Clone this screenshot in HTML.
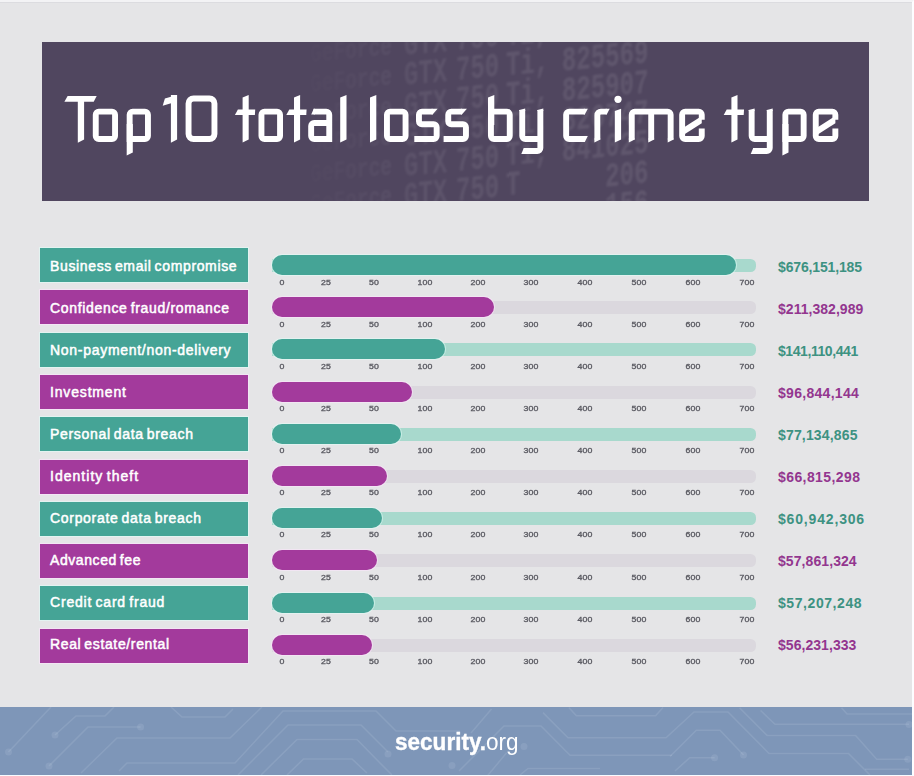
<!DOCTYPE html>
<html><head><meta charset="utf-8">
<style>
*{margin:0;padding:0;box-sizing:border-box}
html,body{width:914px;height:776px;overflow:hidden}
body{background:#e5e5e7;position:relative;font-family:"Liberation Sans",sans-serif}
#title{position:absolute;left:42px;top:42px;width:827px;height:159px;background:#50465f;overflow:hidden}
#title h1{position:absolute;left:22px;top:40px;font-size:62px;font-weight:normal;color:#fff;white-space:nowrap;letter-spacing:0px}
.row{position:absolute;left:0;width:914px;height:0}
.lab{position:absolute;left:40px;top:0;width:208px;height:34px;color:#fff;font-weight:normal;-webkit-text-stroke:0.5px #fff;font-size:14px;word-spacing:-1.5px;line-height:36px;padding-left:10px;white-space:nowrap}
.t .lab{background:#45a496;box-shadow:0 0 0 1px rgba(225,255,250,0.55)}
.p .lab{background:#a33a9c;box-shadow:0 0 0 1px rgba(255,230,255,0.55)}
.track{position:absolute;left:272px;top:11px;width:484px;height:13px;border-radius:0 5.5px 5.5px 0}
.t .track{background:#a8d9cd}
.p .track{background:#dbd8de}
.bar{position:absolute;left:272px;top:7px;height:20px;border-radius:10px}
.t .bar{background:#45a496;box-shadow:0 0 0 1px rgba(225,255,250,0.5)}
.p .bar{background:#a33a9c;box-shadow:0 0 0 1px rgba(255,230,255,0.5)}
.ticks{position:absolute;left:0;top:30px;height:9px;width:914px}
.tk{position:absolute;width:120px;text-align:center;font-size:7px;line-height:9px;color:#5a5a62;font-weight:normal;-webkit-text-stroke:0.3px #5a5a62;letter-spacing:0.15px;transform:scaleX(1.25)}
.val{position:absolute;left:778px;font-size:14px;font-weight:bold;line-height:36px;white-space:nowrap}
.t .val{color:#3d9282}
.p .val{color:#93368f}
#foot{position:absolute;left:0;top:707px;width:912px;height:68px;background:#7e96b8;overflow:hidden}
#edge{position:absolute;left:0;top:0;width:914px;height:776px;border-top:2px solid #f3f3f5;box-shadow:inset 0 1px 0 #dcdce0;border-right:2px solid #fdfdff;border-bottom:1px solid #f8fbff;pointer-events:none}
#logo b{-webkit-text-stroke:0.35px #fff}
#logo{position:absolute;left:395px;top:728px;color:#fff;font-size:24.5px;line-height:28px;white-space:nowrap;transform-origin:0 0;transform:scaleX(0.92)}
#logo b{font-weight:bold}

</style></head><body>
<div id="title"></div>
<svg width="914" height="776" viewBox="0 0 914 776" style="position:absolute;left:0;top:0">
<defs>
<clipPath id="tclip"><rect x="42" y="42" width="827" height="159"/></clipPath>
<linearGradient id="tfade" x1="0" y1="0" x2="914" y2="0" gradientUnits="userSpaceOnUse">
<stop offset="0.3173" stop-color="#fff" stop-opacity="0"/>
<stop offset="0.4048" stop-color="#fff" stop-opacity="0.45"/>
<stop offset="0.4595" stop-color="#fff" stop-opacity="0.8"/>
<stop offset="0.5908" stop-color="#fff" stop-opacity="1"/>
<stop offset="0.7112" stop-color="#fff" stop-opacity="1"/>
<stop offset="0.7495" stop-color="#fff" stop-opacity="0"/>
</linearGradient>
<mask id="tmask" maskUnits="userSpaceOnUse" x="0" y="0" width="914" height="776"><rect x="0" y="0" width="914" height="776" fill="url(#tfade)"/></mask>
<filter id="tblur" x="-10%" y="-10%" width="120%" height="120%"><feGaussianBlur stdDeviation="0.8"/></filter>
</defs>
<g clip-path="url(#tclip)"><g mask="url(#tmask)"><g transform="translate(562,0) skewY(-5.5) translate(-562,0)" filter="url(#tblur)" fill="rgba(255,255,255,0.095)" font-weight="bold" font-family="Liberation Mono" font-size="24">
<text font-size="19.5" transform="translate(310,38.5) scale(1,1.45)">GeForce</text><text transform="translate(404,40.5) scale(1,1.45)">GTX</text><text transform="translate(456,40.5) scale(1,1.45)">750</text><text transform="translate(506,40.5) scale(1,1.45)">Ti,</text><text transform="translate(562,40.5) scale(1,1.45)">825245</text><text font-size="19.5" transform="translate(310,68.5) scale(1,1.45)">GeForce</text><text transform="translate(404,70.5) scale(1,1.45)">GTX</text><text transform="translate(456,70.5) scale(1,1.45)">750</text><text transform="translate(506,70.5) scale(1,1.45)">Ti,</text><text transform="translate(562,70.5) scale(1,1.45)">825569</text><text font-size="19.5" transform="translate(310,98.5) scale(1,1.45)">GeForce</text><text transform="translate(404,100.5) scale(1,1.45)">GTX</text><text transform="translate(456,100.5) scale(1,1.45)">750</text><text transform="translate(506,100.5) scale(1,1.45)">Ti,</text><text transform="translate(562,100.5) scale(1,1.45)">825907</text><text font-size="19.5" transform="translate(310,128.5) scale(1,1.45)">GeForce</text><text transform="translate(404,130.5) scale(1,1.45)">GTX</text><text transform="translate(456,130.5) scale(1,1.45)">750</text><text transform="translate(506,130.5) scale(1,1.45)">Ti,</text><text transform="translate(562,130.5) scale(1,1.45)">826747</text><text font-size="19.5" transform="translate(310,158.5) scale(1,1.45)">GeForce</text><text transform="translate(404,160.5) scale(1,1.45)">GTX</text><text transform="translate(456,160.5) scale(1,1.45)">750</text><text transform="translate(506,160.5) scale(1,1.45)">Ti,</text><text transform="translate(562,160.5) scale(1,1.45)">841025</text><text font-size="19.5" transform="translate(310,188.5) scale(1,1.45)">GeForce</text><text transform="translate(404,190.5) scale(1,1.45)">GTX</text><text transform="translate(456,190.5) scale(1,1.45)">750</text><text transform="translate(506,190.5) scale(1,1.45)">T</text><text transform="translate(562,190.5) scale(1,1.45)">&#160;&#160;&#160;206</text><text font-size="19.5" transform="translate(310,218.5) scale(1,1.45)">GeForce</text><text transform="translate(404,220.5) scale(1,1.45)">GTX</text><text transform="translate(456,220.5) scale(1,1.45)">750</text><text transform="translate(562,220.5) scale(1,1.45)">&#160;&#160;&#160;156</text>
</g></g></g></svg>
<svg id="tsvg" width="914" height="776" viewBox="0 0 914 776" style="position:absolute;left:0;top:0"><path fill="none" stroke="#fff" stroke-width="5.90" stroke-linejoin="miter" d="M98.75,111.65 L112.05,111.65 A3,3 0 0 1 115.05,114.65 L115.05,136.05 A3,3 0 0 1 112.05,139.05 L98.75,139.05 A3,3 0 0 1 95.75,136.05 L95.75,114.65 A3,3 0 0 1 98.75,111.65 Z M132.65,111.65 L144.95,111.65 A3,3 0 0 1 147.95,114.65 L147.95,136.05 A3,3 0 0 1 144.95,139.05 L129.65,139.05 L129.65,114.65 A3,3 0 0 1 132.65,111.65 Z M193.55,98.45 L209.45,98.45 A5,5 0 0 1 214.45,103.45 L214.45,134.05 A5,5 0 0 1 209.45,139.05 L193.55,139.05 A5,5 0 0 1 188.55,134.05 L188.55,103.45 A5,5 0 0 1 193.55,98.45 Z M264.45,111.65 L277.05,111.65 A3,3 0 0 1 280.05,114.65 L280.05,136.05 A3,3 0 0 1 277.05,139.05 L264.45,139.05 A3,3 0 0 1 261.45,136.05 L261.45,114.65 A3,3 0 0 1 264.45,111.65 Z M313.70,111.65 L326.25,111.65 A3,3 0 0 1 329.25,114.65 L329.25,142.00 M329.25,122.95 L314.15,122.95 A3,3 0 0 0 311.15,125.95 L311.15,136.05 A3,3 0 0 0 314.15,139.05 L329.25,139.05 M389.95,111.65 L402.55,111.65 A3,3 0 0 1 405.55,114.65 L405.55,136.05 A3,3 0 0 1 402.55,139.05 L389.95,139.05 A3,3 0 0 1 386.95,136.05 L386.95,114.65 A3,3 0 0 1 389.95,111.65 Z M432.60,111.65 L421.95,111.65 A3,3 0 0 0 418.95,114.65 L418.95,121.30 A3,3 0 0 0 421.95,124.30 L433.65,124.30 A3,3 0 0 1 436.65,127.30 L436.65,136.05 A3,3 0 0 1 433.65,139.05 L414.30,139.05 M461.90,111.65 L451.25,111.65 A3,3 0 0 0 448.25,114.65 L448.25,121.30 A3,3 0 0 0 451.25,124.30 L462.95,124.30 A3,3 0 0 1 465.95,127.30 L465.95,136.05 A3,3 0 0 1 462.95,139.05 L443.60,139.05 M490.95,111.65 L506.75,111.65 A3,3 0 0 1 509.75,114.65 L509.75,136.05 A3,3 0 0 1 506.75,139.05 L493.95,139.05 A3,3 0 0 1 490.95,136.05 L490.95,111.65 Z M522.25,109.90 L522.25,136.05 A3,3 0 0 0 525.25,139.05 L540.35,139.05 M540.35,109.90 L540.35,148.05 A3,3 0 0 1 537.35,151.05 L523.80,151.05 M584.80,111.65 L569.15,111.65 A3,3 0 0 0 566.15,114.65 L566.15,136.05 A3,3 0 0 0 569.15,139.05 L584.80,139.05 M597.35,139.40 L597.35,115.15 A3.5,3.5 0 0 1 600.85,111.65 L606.70,111.65 M631.75,139.40 L631.75,114.65 A3,3 0 0 1 634.75,111.65 L667.65,111.65 A3,3 0 0 1 670.65,114.65 L670.65,139.40 M651.20,109.70 L651.20,139.40 M701.75,128.50 L701.75,136.05 A3,3 0 0 1 698.75,139.05 L685.15,139.05 A3,3 0 0 1 682.15,136.05 L682.15,114.65 A3,3 0 0 1 685.15,111.65 L698.75,111.65 A3,3 0 0 1 701.75,114.65 L701.75,119.70 M751.65,109.90 L751.65,136.05 A3,3 0 0 0 754.65,139.05 L769.75,139.05 M769.75,109.90 L769.75,148.05 A3,3 0 0 1 766.75,151.05 L753.20,151.05 M788.35,111.65 L800.65,111.65 A3,3 0 0 1 803.65,114.65 L803.65,136.05 A3,3 0 0 1 800.65,139.05 L785.35,139.05 L785.35,114.65 A3,3 0 0 1 788.35,111.65 Z M835.35,128.50 L835.35,136.05 A3,3 0 0 1 832.35,139.05 L818.75,139.05 A3,3 0 0 1 815.75,136.05 L815.75,114.65 A3,3 0 0 1 818.75,111.65 L832.35,111.65 A3,3 0 0 1 835.35,114.65 L835.35,119.70"/><path fill="#fff" d="M67.60,96.00 L96.70,96.00 L93.70,101.80 L64.40,101.80Z"/><path fill="#fff" d="M77.80,100.00 L84.10,100.00 L84.10,139.60 L77.80,142.80Z"/><path fill="#fff" d="M126.70,124.00 L132.80,124.00 L132.80,152.40 L126.70,155.50Z"/><path fill="#fff" d="M170.90,95.00 L177.10,95.00 L177.10,139.40 L170.90,142.80Z"/><path fill="#fff" d="M177.10,95.00 L164.90,98.60 L162.70,105.80 L171.10,103.20Z"/><path fill="#fff" d="M242.60,97.60 L248.70,95.00 L248.70,139.40 L242.60,142.50Z"/><path fill="#fff" d="M237.90,109.50 L255.20,109.50 L254.90,115.10 L234.90,115.10Z"/><path fill="#fff" d="M294.00,97.60 L300.10,95.00 L300.10,139.40 L294.00,142.50Z"/><path fill="#fff" d="M289.30,109.50 L306.60,109.50 L306.30,115.10 L286.30,115.10Z"/><path fill="#fff" d="M314.80,108.70 L314.80,114.60 L311.20,114.60 L313.70,108.70Z"/><path fill="#fff" d="M340.20,97.60 L346.50,95.00 L346.50,139.40 L340.20,142.50Z"/><path fill="#fff" d="M370.00,97.60 L376.30,95.00 L376.30,139.40 L370.00,142.50Z"/><path fill="#fff" d="M431.60,108.70 L437.60,108.70 L432.60,114.60 L431.60,114.60Z"/><path fill="#fff" d="M460.90,108.70 L466.90,108.70 L461.90,114.60 L460.90,114.60Z"/><path fill="#fff" d="M488.00,97.60 L494.30,95.00 L494.30,125.00 L488.00,125.00Z"/><path fill="#fff" d="M524.80,148.10 L524.80,154.00 L521.30,154.00 L523.80,148.10Z"/><path fill="#fff" d="M519.30,110.90 L525.20,110.90 L525.20,108.40 L519.30,109.90Z"/><path fill="#fff" d="M537.40,110.90 L543.30,110.90 L543.30,108.40 L537.40,109.90Z"/><path fill="#fff" d="M583.80,108.70 L587.80,108.70 L584.80,114.60 L583.80,114.60Z"/><path fill="#fff" d="M583.80,136.10 L587.80,136.10 L584.80,142.00 L583.80,142.00Z"/><path fill="#fff" d="M594.40,138.40 L600.30,138.40 L600.30,139.40 L594.40,142.50Z"/><path fill="#fff" d="M605.70,108.70 L609.70,108.70 L606.70,114.60 L605.70,114.60Z"/><path fill="#fff" d="M614.80,110.90 L621.10,108.70 L621.10,139.40 L614.80,142.50Z"/><path fill="#fff" d="M628.80,138.40 L634.70,138.40 L634.70,139.40 L628.80,142.50Z"/><path fill="#fff" d="M648.25,138.40 L654.15,138.40 L654.15,139.40 L648.25,142.50Z"/><path fill="#fff" d="M667.70,138.40 L673.60,138.40 L673.60,139.40 L667.70,142.50Z"/><path fill="#fff" d="M682.15,128.60 L701.75,116.10 L701.75,123.30 L682.15,135.80Z"/><path fill="#fff" d="M731.40,97.60 L737.50,95.00 L737.50,139.40 L731.40,142.50Z"/><path fill="#fff" d="M726.70,109.50 L744.00,109.50 L743.70,115.10 L723.70,115.10Z"/><path fill="#fff" d="M754.20,148.10 L754.20,154.00 L750.70,154.00 L753.20,148.10Z"/><path fill="#fff" d="M748.70,110.90 L754.60,110.90 L754.60,108.40 L748.70,109.90Z"/><path fill="#fff" d="M766.80,110.90 L772.70,110.90 L772.70,108.40 L766.80,109.90Z"/><path fill="#fff" d="M782.40,124.00 L788.50,124.00 L788.50,152.40 L782.40,155.50Z"/><path fill="#fff" d="M815.75,128.60 L835.35,116.10 L835.35,123.30 L815.75,135.80Z"/><circle cx="618.00" cy="99.30" r="3.6" fill="#fff"/></svg>

<div class="row t" style="top:0px">
<div class="lab" style="top:248.00px"><span style="position:relative;top:-0.00px;letter-spacing:0.638px">Business email compromise</span></div>
<div class="track" style="top:259.00px"></div>
<div class="bar" style="top:255.00px;width:463.6px"></div>
<div class="ticks" style="top:277.80px"><span class="tk" style="left:221.5px">0</span><span class="tk" style="left:266.0px">25</span><span class="tk" style="left:314.0px">50</span><span class="tk" style="left:364.5px">100</span><span class="tk" style="left:418.0px">200</span><span class="tk" style="left:471.0px">300</span><span class="tk" style="left:524.5px">400</span><span class="tk" style="left:578.5px">500</span><span class="tk" style="left:632.5px">600</span><span class="tk" style="left:686.5px">700</span></div>
<div class="val" style="top:249.00px;letter-spacing:-0.155px">$676,151,185</div>
</div><div class="row p" style="top:0px">
<div class="lab" style="top:290.30px"><span style="position:relative;top:-0.30px;letter-spacing:0.674px">Confidence fraud/romance</span></div>
<div class="track" style="top:301.20px"></div>
<div class="bar" style="top:297.20px;width:221.5px"></div>
<div class="ticks" style="top:319.90px"><span class="tk" style="left:221.5px">0</span><span class="tk" style="left:266.0px">25</span><span class="tk" style="left:314.0px">50</span><span class="tk" style="left:364.5px">100</span><span class="tk" style="left:418.0px">200</span><span class="tk" style="left:471.0px">300</span><span class="tk" style="left:524.5px">400</span><span class="tk" style="left:578.5px">500</span><span class="tk" style="left:632.5px">600</span><span class="tk" style="left:686.5px">700</span></div>
<div class="val" style="top:291.00px;letter-spacing:0.036px">$211,382,989</div>
</div><div class="row t" style="top:0px">
<div class="lab" style="top:332.60px"><span style="position:relative;top:-0.60px;letter-spacing:0.709px">Non-payment/non-delivery</span></div>
<div class="track" style="top:343.40px"></div>
<div class="bar" style="top:339.40px;width:173.1px"></div>
<div class="ticks" style="top:362.00px"><span class="tk" style="left:221.5px">0</span><span class="tk" style="left:266.0px">25</span><span class="tk" style="left:314.0px">50</span><span class="tk" style="left:364.5px">100</span><span class="tk" style="left:418.0px">200</span><span class="tk" style="left:471.0px">300</span><span class="tk" style="left:524.5px">400</span><span class="tk" style="left:578.5px">500</span><span class="tk" style="left:632.5px">600</span><span class="tk" style="left:686.5px">700</span></div>
<div class="val" style="top:333.00px;letter-spacing:-0.427px">$141,110,441</div>
</div><div class="row p" style="top:0px">
<div class="lab" style="top:374.90px"><span style="position:relative;top:-0.90px;letter-spacing:0.833px">Investment</span></div>
<div class="track" style="top:385.60px"></div>
<div class="bar" style="top:381.60px;width:140.1px"></div>
<div class="ticks" style="top:404.10px"><span class="tk" style="left:221.5px">0</span><span class="tk" style="left:266.0px">25</span><span class="tk" style="left:314.0px">50</span><span class="tk" style="left:364.5px">100</span><span class="tk" style="left:418.0px">200</span><span class="tk" style="left:471.0px">300</span><span class="tk" style="left:524.5px">400</span><span class="tk" style="left:578.5px">500</span><span class="tk" style="left:632.5px">600</span><span class="tk" style="left:686.5px">700</span></div>
<div class="val" style="top:375.00px;letter-spacing:0.290px">$96,844,144</div>
</div><div class="row t" style="top:0px">
<div class="lab" style="top:417.20px"><span style="position:relative;top:-1.20px;letter-spacing:0.679px">Personal data breach</span></div>
<div class="track" style="top:427.80px"></div>
<div class="bar" style="top:423.80px;width:129.2px"></div>
<div class="ticks" style="top:446.20px"><span class="tk" style="left:221.5px">0</span><span class="tk" style="left:266.0px">25</span><span class="tk" style="left:314.0px">50</span><span class="tk" style="left:364.5px">100</span><span class="tk" style="left:418.0px">200</span><span class="tk" style="left:471.0px">300</span><span class="tk" style="left:524.5px">400</span><span class="tk" style="left:578.5px">500</span><span class="tk" style="left:632.5px">600</span><span class="tk" style="left:686.5px">700</span></div>
<div class="val" style="top:417.00px;letter-spacing:0.160px">$77,134,865</div>
</div><div class="row p" style="top:0px">
<div class="lab" style="top:459.50px"><span style="position:relative;top:-1.50px;letter-spacing:1.023px">Identity theft</span></div>
<div class="track" style="top:470.00px"></div>
<div class="bar" style="top:466.00px;width:114.8px"></div>
<div class="ticks" style="top:488.30px"><span class="tk" style="left:221.5px">0</span><span class="tk" style="left:266.0px">25</span><span class="tk" style="left:314.0px">50</span><span class="tk" style="left:364.5px">100</span><span class="tk" style="left:418.0px">200</span><span class="tk" style="left:471.0px">300</span><span class="tk" style="left:524.5px">400</span><span class="tk" style="left:578.5px">500</span><span class="tk" style="left:632.5px">600</span><span class="tk" style="left:686.5px">700</span></div>
<div class="val" style="top:459.00px;letter-spacing:0.410px">$66,815,298</div>
</div><div class="row t" style="top:0px">
<div class="lab" style="top:501.80px"><span style="position:relative;top:-1.80px;letter-spacing:0.695px">Corporate data breach</span></div>
<div class="track" style="top:512.20px"></div>
<div class="bar" style="top:508.20px;width:109.7px"></div>
<div class="ticks" style="top:530.40px"><span class="tk" style="left:221.5px">0</span><span class="tk" style="left:266.0px">25</span><span class="tk" style="left:314.0px">50</span><span class="tk" style="left:364.5px">100</span><span class="tk" style="left:418.0px">200</span><span class="tk" style="left:471.0px">300</span><span class="tk" style="left:524.5px">400</span><span class="tk" style="left:578.5px">500</span><span class="tk" style="left:632.5px">600</span><span class="tk" style="left:686.5px">700</span></div>
<div class="val" style="top:501.00px;letter-spacing:0.830px">$60,942,306</div>
</div><div class="row p" style="top:0px">
<div class="lab" style="top:544.10px"><span style="position:relative;top:-2.10px;letter-spacing:0.573px">Advanced fee</span></div>
<div class="track" style="top:554.40px"></div>
<div class="bar" style="top:550.40px;width:105.2px"></div>
<div class="ticks" style="top:572.50px"><span class="tk" style="left:221.5px">0</span><span class="tk" style="left:266.0px">25</span><span class="tk" style="left:314.0px">50</span><span class="tk" style="left:364.5px">100</span><span class="tk" style="left:418.0px">200</span><span class="tk" style="left:471.0px">300</span><span class="tk" style="left:524.5px">400</span><span class="tk" style="left:578.5px">500</span><span class="tk" style="left:632.5px">600</span><span class="tk" style="left:686.5px">700</span></div>
<div class="val" style="top:543.00px;letter-spacing:0.080px">$57,861,324</div>
</div><div class="row t" style="top:0px">
<div class="lab" style="top:586.40px"><span style="position:relative;top:-2.40px;letter-spacing:0.819px">Credit card fraud</span></div>
<div class="track" style="top:596.60px"></div>
<div class="bar" style="top:592.60px;width:102.3px"></div>
<div class="ticks" style="top:614.60px"><span class="tk" style="left:221.5px">0</span><span class="tk" style="left:266.0px">25</span><span class="tk" style="left:314.0px">50</span><span class="tk" style="left:364.5px">100</span><span class="tk" style="left:418.0px">200</span><span class="tk" style="left:471.0px">300</span><span class="tk" style="left:524.5px">400</span><span class="tk" style="left:578.5px">500</span><span class="tk" style="left:632.5px">600</span><span class="tk" style="left:686.5px">700</span></div>
<div class="val" style="top:585.00px;letter-spacing:0.570px">$57,207,248</div>
</div><div class="row p" style="top:0px">
<div class="lab" style="top:628.70px"><span style="position:relative;top:-2.70px;letter-spacing:0.635px">Real estate/rental</span></div>
<div class="track" style="top:638.80px"></div>
<div class="bar" style="top:634.80px;width:100.0px"></div>
<div class="ticks" style="top:656.70px"><span class="tk" style="left:221.5px">0</span><span class="tk" style="left:266.0px">25</span><span class="tk" style="left:314.0px">50</span><span class="tk" style="left:364.5px">100</span><span class="tk" style="left:418.0px">200</span><span class="tk" style="left:471.0px">300</span><span class="tk" style="left:524.5px">400</span><span class="tk" style="left:578.5px">500</span><span class="tk" style="left:632.5px">600</span><span class="tk" style="left:686.5px">700</span></div>
<div class="val" style="top:627.00px;letter-spacing:0.050px">$56,231,333</div>
</div>
<div id="foot"><svg width="912" height="68" viewBox="0 707 912 68" style="position:absolute;left:0;top:0">
<g fill="none" stroke="rgba(240,246,255,0.11)" stroke-width="1.5">
<path d="M8.5,752 L51,707"/>
<path d="M55,735 L76,716 L105,716 L114,707"/>
<path d="M49,766 L88,727 L140.6,727"/>
<path d="M81,773 L117,738 L230,738 L262,707"/>
<path d="M119,771 L127,763 L235,763 L283,711 L376,711 L396,731 L460,731"/>
<path d="M171,707 L182,717 L225,717 L233,709"/>
<path d="M238,775 L288,725 L361,725 L388,752"/>
<path d="M261,775 L297,739.4 L357,739.4 L379,762 L392,775"/>
<path d="M287,775 L303.5,759 L352,759 L367,773"/>
<path d="M491.5,709 L471,733"/>
<path d="M459,771 L504,726 L541,726 L570,755.3 L672,755.3"/>
<path d="M543,712.6 L568,737.7 L666,737.7 L694,712 L728,712 L769,753.5 L848.5,753.5 L870,775"/>
<path d="M568.8,707.5 L576.4,715.7 L655.6,715.7 L663,707.5"/>
<path d="M520,775 L528,768.5 L600,768.5"/>
<path d="M506.6,752.8 L487.7,775.5"/>
<path d="M670,756.5 L696.3,730.2 L720,730.2 L743.5,755"/>
<path d="M675,771 L689.7,757.8 L714.6,757.8"/>
<path d="M739.6,707.9 L767,735.4 L855.6,735.4 L876.7,759.3 L907.8,759.3"/>
<path d="M760.6,710.5 L775,724.3 L909,724.3"/>
<path d="M841.5,707.8 L847,714.1 L912,714.1"/>
<path d="M865,769.2 L909,769.2"/>
</g>
<g fill="rgba(240,246,255,0.1)">
<circle cx="8.5" cy="752" r="3.5"/><circle cx="55" cy="735" r="3.5"/><circle cx="49" cy="766" r="3.5"/><circle cx="140.6" cy="727" r="3.5"/>
<circle cx="388" cy="754" r="3.5"/><circle cx="524" cy="746.5" r="3.5"/><circle cx="452" cy="765.5" r="3.5"/><circle cx="743.5" cy="755" r="3.5"/>
<circle cx="714.6" cy="757.8" r="3.5"/><circle cx="907.8" cy="759.3" r="3.5"/><circle cx="909" cy="724.5" r="3.5"/>
</g></svg></div>

<div id="logo"><b>security.</b>org</div>
<div id="edge"></div>
</body></html>
